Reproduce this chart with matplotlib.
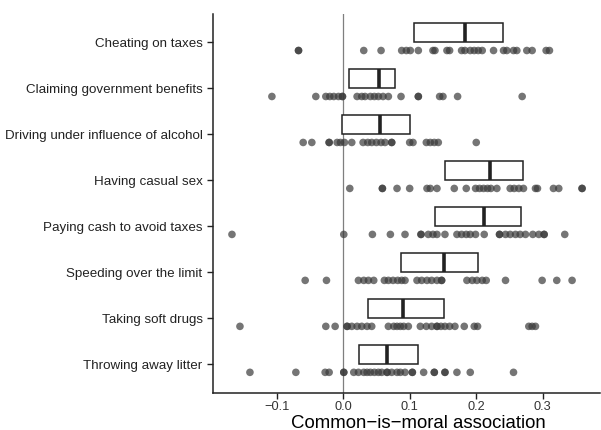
import numpy as np
import matplotlib
matplotlib.use("Agg")
import matplotlib.pyplot as plt

plt.rcParams['font.family'] = ['Liberation Sans', 'DejaVu Sans']

# behaviours, top to bottom
behaviours = [
    "Cheating on taxes",
    "Claiming government benefits",
    "Driving under influence of alcohol",
    "Having casual sex",
    "Paying cash to avoid taxes",
    "Speeding over the limit",
    "Taking soft drugs",
    "Throwing away litter",
]

# per-country association estimates
cheating = [-0.067, -0.067, 0.031, 0.057, 0.088, 0.095, 0.101, 0.113, 0.135, 0.138,
            0.156, 0.160, 0.178, 0.183, 0.191, 0.197, 0.203, 0.209, 0.226, 0.241,
            0.246, 0.256, 0.261, 0.276, 0.284, 0.305, 0.310]
claiming = [-0.107, -0.041, -0.026, -0.020, -0.014, -0.007, -0.001, -0.001, 0.021, 0.028,
            0.033, 0.041, 0.047, 0.053, 0.060, 0.068, 0.087, 0.113, 0.113, 0.145,
            0.150, 0.172, 0.269]
driving = [-0.060, -0.047, -0.021, -0.021, -0.009, -0.004, 0.002, 0.013, 0.030, 0.037,
           0.043, 0.050, 0.057, 0.063, 0.073, 0.073, 0.100, 0.105, 0.125, 0.131,
           0.137, 0.143, 0.200]
casual_sex = [0.010, 0.059, 0.059, 0.081, 0.100, 0.126, 0.131, 0.141, 0.167, 0.185,
              0.199, 0.205, 0.211, 0.217, 0.222, 0.231, 0.251, 0.257, 0.264, 0.271,
              0.289, 0.292, 0.316, 0.324, 0.359, 0.359]
paying_cash = [-0.167, 0.001, 0.044, 0.071, 0.093, 0.117, 0.117, 0.128, 0.135, 0.141,
               0.153, 0.171, 0.178, 0.185, 0.191, 0.199, 0.212, 0.235, 0.235, 0.244,
               0.251, 0.259, 0.266, 0.274, 0.285, 0.294, 0.302, 0.302, 0.333]
speeding = [-0.057, -0.025, 0.023, 0.031, 0.038, 0.046, 0.062, 0.068, 0.075, 0.082,
            0.088, 0.093, 0.111, 0.118, 0.126, 0.133, 0.141, 0.148, 0.148, 0.186,
            0.194, 0.201, 0.209, 0.215, 0.244, 0.299, 0.321, 0.344]
soft_drugs = [-0.155, -0.026, -0.012, 0.006, 0.006, 0.013, 0.021, 0.028, 0.036, 0.043,
              0.068, 0.076, 0.081, 0.086, 0.091, 0.098, 0.116, 0.125, 0.133, 0.141,
              0.141, 0.147, 0.153, 0.160, 0.168, 0.182, 0.197, 0.202, 0.279, 0.284, 0.289]
litter = [-0.140, -0.071, -0.027, -0.021, 0.001, 0.001, 0.016, 0.023, 0.031, 0.036,
          0.041, 0.047, 0.053, 0.058, 0.066, 0.066, 0.073, 0.081, 0.086, 0.093,
          0.104, 0.104, 0.121, 0.137, 0.137, 0.153, 0.153, 0.171, 0.191, 0.256]
points = [cheating, claiming, driving, casual_sex, paying_cash, speeding, soft_drugs, litter]

# box summaries (lower quartile, median, upper quartile)
q1 = [0.106, 0.0095, -0.002, 0.153, 0.138, 0.087, 0.037, 0.0245]
med = [0.183, 0.0546, 0.0552, 0.220, 0.2116, 0.152, 0.0898, 0.0657]
q3 = [0.240, 0.0785, 0.1008, 0.271, 0.267, 0.2025, 0.151, 0.113]

fig = plt.figure(figsize=(6.01, 4.30), dpi=100)
ax = fig.add_axes([0.3544, 0.086, 0.644, 0.881])

ax.axvline(0, color='#7f7f7f', lw=0.9, zorder=0)

pos = np.arange(len(behaviours))
box_h = 0.41
stats = [dict(q1=a, med=m, q3=b, whislo=a, whishi=b, fliers=[])
         for a, m, b in zip(q1, med, q3)]
ax.bxp(stats, positions=pos - box_h / 2, widths=box_h, vert=False,
       showcaps=False, showfliers=False, patch_artist=True,
       boxprops=dict(facecolor='white', edgecolor='#222222', lw=1.1),
       whiskerprops=dict(lw=0),
       medianprops=dict(color='#222222', lw=2.6, solid_capstyle='butt'),
       manage_ticks=False)

for i, vals in enumerate(points):
    ax.scatter(vals, np.full(len(vals), i + 0.18), s=30, color='#3a3a3a',
               alpha=0.7, edgecolors='none', zorder=3)

ax.set_ylim(len(behaviours) - 1 + 0.63, -0.61)
ax.set_xlim(-0.1955, 0.386)
ax.set_yticks(pos)
ax.set_yticklabels(behaviours, fontsize=9.6, color='#222222')
ax.set_xticks([-0.1, 0.0, 0.1, 0.2, 0.3])
ax.set_xticklabels(['\u22120.1', '0.0', '0.1', '0.2', '0.3'], fontsize=9.2, color='#333333')
ax.set_xlabel('Common\u2212is\u2212moral association', fontsize=13.4, labelpad=0)
ax.xaxis.set_label_coords(0.53, -0.057, transform=ax.transAxes)
ax.xaxis.label.set_va('top')

for s in ['top', 'right']:
    ax.spines[s].set_visible(False)
for s in ['left', 'bottom']:
    ax.spines[s].set_linewidth(1.1)
    ax.spines[s].set_color('#222222')
ax.tick_params(length=4, width=1.0, color='#222222')
ax.tick_params(axis='x', pad=1.5)

fig.savefig('out.png', dpi=100)
